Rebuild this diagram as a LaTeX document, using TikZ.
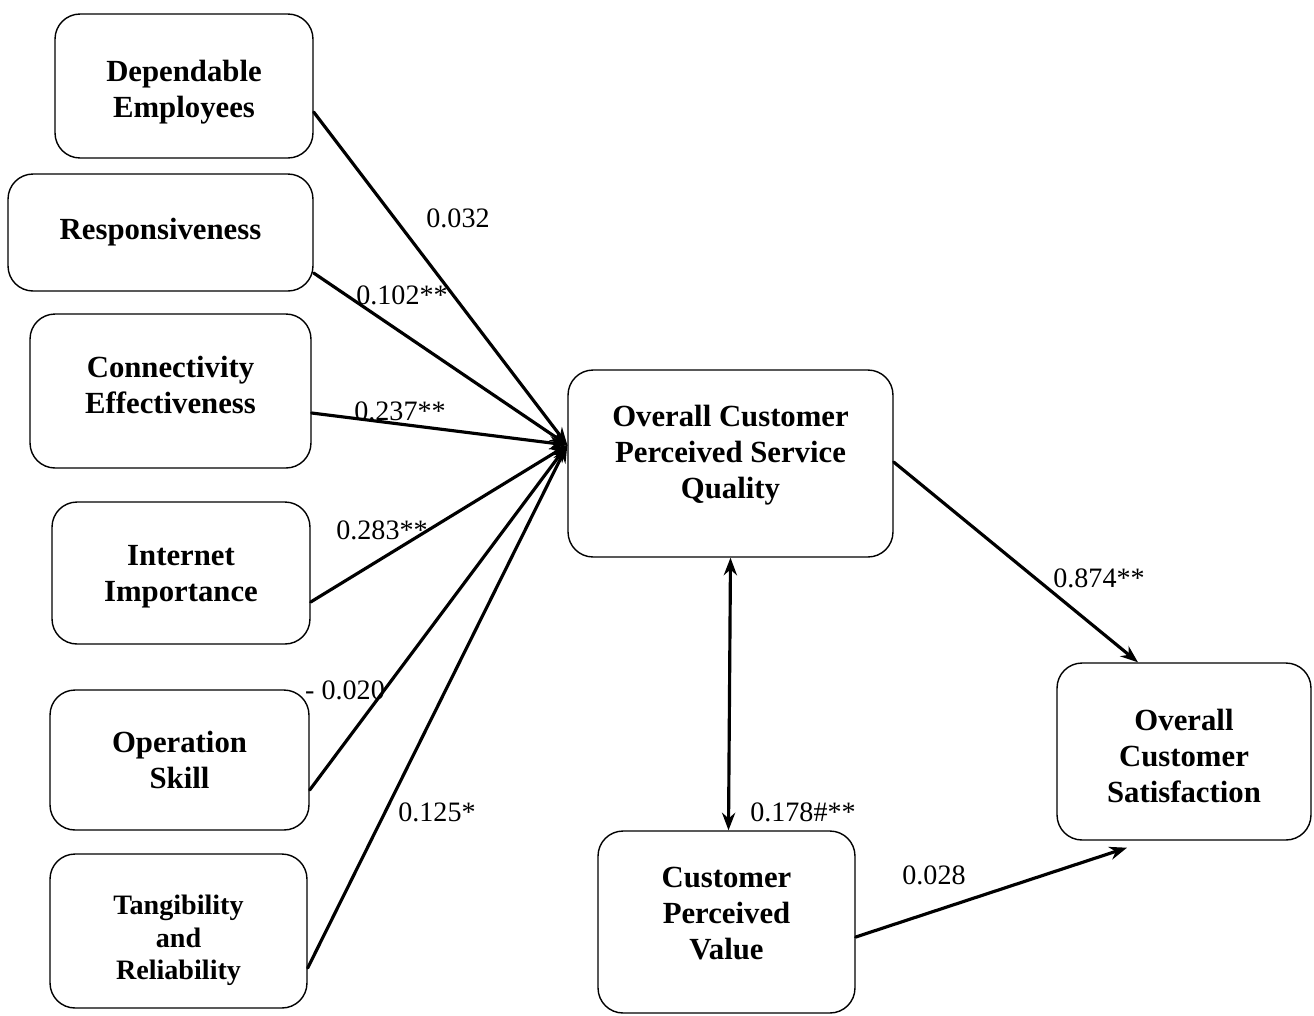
\documentclass[tikz,border=0pt]{standalone}
\usepackage{fontspec}
\setmainfont{Liberation Serif}
\usetikzlibrary{calc,arrows.meta}
\begin{document}
\begin{tikzpicture}[>={Stealth[length=10pt,width=7.5pt]},line join=round,line cap=round,x=0.02cm,y=-0.02cm,
	box/.style={draw,rounded corners=0.5cm,line width=0.8pt,align=center,inner sep=0pt,font=\fontsize{17.5}{20.5}\selectfont\bfseries},
	link/.style={->,line width=1.8pt},
	coef/.style={inner sep=1pt,font=\fontsize{16}{19}\selectfont}]
	\useasboundingbox (0,0) rectangle (1314,1015);
	\node[box,minimum width=5.16cm,minimum height=2.88cm] (de) at (184,86) {\rule{0pt}{0.66cm}Dependable\\Employees};
	\node[box,minimum width=6.1cm,minimum height=2.34cm] (rs) at (160.5,232.5) {Responsiveness};
	\node[box,minimum width=5.62cm,minimum height=3.08cm] (ce) at (170.5,391) {Connectivity\\Effectiveness\\[-0.48cm]};
	\node[box,minimum width=5.16cm,minimum height=2.84cm] (ii) at (181,573) {\rule{0pt}{0.54cm}Internet\\Importance};
	\node[box,minimum width=5.18cm,minimum height=2.8cm] (os) at (179.5,760) {Operation\\Skill};
	\node[box,minimum width=5.14cm,minimum height=3.08cm,font=\fontsize{16}{18.5}\selectfont\bfseries] (tr) at (178.5,931) {\rule{0pt}{0.78cm}Tangibility\\and\\Reliability};
	\node[box,minimum width=6.5cm,minimum height=3.74cm] (oq) at (730.5,463.5) {Overall Customer\\Perceived Service\\Quality\\[-0.24cm]};
	\node[box,minimum width=5.08cm,minimum height=3.54cm] (cs) at (1184,751.5) {\rule{0pt}{0.62cm}Overall\\Customer\\Satisfaction};
	\node[box,minimum width=5.14cm,minimum height=3.64cm] (cv) at (726.5,922) {Customer\\Perceived\\Value\\[-0.36cm]};
	\coordinate (hub) at ($(oq.west)+(0,-18.5)$);
	\draw[link] ($(de.east)+(0,26)$)--(hub);
	\draw[link] ($(rs.east)+(0,40.5)$)--(hub);
	\draw[link] ($(ce.east)+(0,22)$)--(hub);
	\draw[link] ($(ii.east)+(0,29)$)--(hub);
	\draw[link] ($(os.east)+(0,30)$)--(hub);
	\draw[link] ($(tr.east)+(0,37)$)--(hub);
	\draw[link] ($(oq.east)+(0,-1.5)$)--($(cs.north)+(-46,0)$);
	\draw[link,<->] (oq.south)--($(cv.north)+(2,0)$);
	\draw[link] ($(cv.east)+(0,15)$)--($(cs.south)+(-57,7)$);
	\node[coef] (c1) at (458,218) {0.032};
	\node[coef] (c2) at (402,295) {0.102**};
	\node[coef] (c3) at (400,411) {0.237**};
	\node[coef] (c4) at (382,530) {0.283**};
	\node[coef] (c5) at (345,690) {- 0.020};
	\node[coef] (c6) at (437,812) {0.125*};
	\node[coef] (c7) at (1099,578) {0.874**};
	\node[coef] (c8) at (803,812) {0.178\#**};
	\node[coef] (c9) at (934,875) {0.028};
\end{tikzpicture}
\end{document}
